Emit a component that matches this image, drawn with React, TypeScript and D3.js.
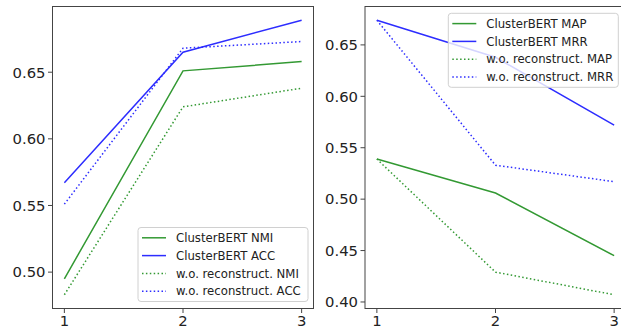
import React from "react";
import * as d3 from "d3";

const xs = [1, 2, 3];
const xTicks = [1, 2, 3];

const leftNMI = [0.495, 0.651, 0.658];
const leftACC = [0.567, 0.665, 0.689];
const leftNMIwo = [0.483, 0.624, 0.638];
const leftACCwo = [0.551, 0.668, 0.673];
const leftYTicks = [0.5, 0.55, 0.6, 0.65];

const rightMAP = [0.539, 0.506, 0.445];
const rightMRR = [0.674, 0.638, 0.572];
const rightMAPwo = [0.539, 0.429, 0.407];
const rightMRRwo = [0.674, 0.533, 0.517];
const rightYTicks = [0.4, 0.45, 0.5, 0.55, 0.6, 0.65];

const leftLabels = ["ClusterBERT NMI", "ClusterBERT ACC", "w.o. reconstruct. NMI", "w.o. reconstruct. ACC"];
const rightLabels = ["ClusterBERT MAP", "ClusterBERT MRR", "w.o. reconstruct. MAP", "w.o. reconstruct. MRR"];

const GREEN = "rgb(51,153,51)";
const BLUE = "rgb(45,45,255)";
const FONT = "DejaVu Sans";

type Series = { values: number[]; color: string; dotted: boolean; label: string };

function Panel({
  x0, x1, y0, y1, series, yTicks, legendX, legendY,
}: {
  x0: number; x1: number; y0: number; y1: number; series: Series[]; yTicks: number[];
  legendX: number; legendY: number;
}) {
  const all = series.flatMap((s) => s.values);
  const [mn, mx] = d3.extent(all) as [number, number];
  const pad = (mx - mn) * 0.05;
  const x = d3.scaleLinear().domain([0.9, 3.1]).range([x0, x1]);
  const y = d3.scaleLinear().domain([mn - pad, mx + pad]).range([y1, y0]);
  const line = d3.line<number>().x((_, i) => x(xs[i])).y((v) => y(v));
  const fmt = d3.format(".2f");
  const rowH = 17.8;
  return (
    <g>
      <defs>
        <clipPath id={`clip${x0}`}>
          <rect x={x0} y={y0} width={x1 - x0} height={y1 - y0} />
        </clipPath>
      </defs>
      <g clipPath={`url(#clip${x0})`}>
        {series.map((s, i) => (
          <path key={i} d={line(s.values) || ""} fill="none" stroke={s.color} strokeWidth={1.5}
            strokeDasharray={s.dotted ? "1.5 2.4" : undefined} />
        ))}
      </g>
      <rect x={x0} y={y0} width={x1 - x0} height={y1 - y0} fill="none" stroke="#444" strokeWidth={1} />
      {xTicks.map((t) => (
        <g key={t}>
          <line x1={x(t)} x2={x(t)} y1={y1} y2={y1 + 4.5} stroke="#444" />
          <text x={x(t)} y={326} textAnchor="middle" fontFamily={FONT} fontSize={14.8} fill="#222">{t}</text>
        </g>
      ))}
      {yTicks.map((t) => (
        <g key={t}>
          <line x1={x0 - 4.5} x2={x0} y1={y(t)} y2={y(t)} stroke="#444" />
          <text x={x0 - 7} y={y(t)} dy="0.36em" textAnchor="end" fontFamily={FONT} fontSize={14.8} fill="#222">{fmt(t)}</text>
        </g>
      ))}
      <g transform={`translate(${legendX},${legendY})`}>
        <rect x={0} y={0} width={170} height={74} rx={3} fill="white" fillOpacity={0.8} stroke="#d0d0d0" />
        {series.map((s, i) => (
          <g key={i} transform={`translate(0,${10.3 + i * rowH})`}>
            <line x1={4} x2={28} y1={0} y2={0} stroke={s.color} strokeWidth={1.5}
              strokeDasharray={s.dotted ? "1.5 2.4" : undefined} />
            <text x={38} y={0} dy="0.36em" fontFamily={FONT} fontSize={11.7} fill="#222">{s.label}</text>
          </g>
        ))}
      </g>
    </g>
  );
}

export default function App() {
  const leftSeries: Series[] = [
    { values: leftNMI, color: GREEN, dotted: false, label: leftLabels[0] },
    { values: leftACC, color: BLUE, dotted: false, label: leftLabels[1] },
    { values: leftNMIwo, color: GREEN, dotted: true, label: leftLabels[2] },
    { values: leftACCwo, color: BLUE, dotted: true, label: leftLabels[3] },
  ];
  const rightSeries: Series[] = [
    { values: rightMAP, color: GREEN, dotted: false, label: rightLabels[0] },
    { values: rightMRR, color: BLUE, dotted: false, label: rightLabels[1] },
    { values: rightMAPwo, color: GREEN, dotted: true, label: rightLabels[2] },
    { values: rightMRRwo, color: BLUE, dotted: true, label: rightLabels[3] },
  ];
  return (
    <svg width={621} height={331} style={{ position: "absolute", left: 0, top: 0, background: "white" }}>
      <rect width={621} height={331} fill="white" />
      <Panel x0={52.5} x1={313.5} y0={6.5} y1={308.5} series={leftSeries} yTicks={leftYTicks}
        legendX={138} legendY={227.5} />
      <Panel x0={365} x1={626} y0={6.5} y1={308.5} series={rightSeries} yTicks={rightYTicks}
        legendX={448.3} legendY={13.3} />
    </svg>
  );
}
